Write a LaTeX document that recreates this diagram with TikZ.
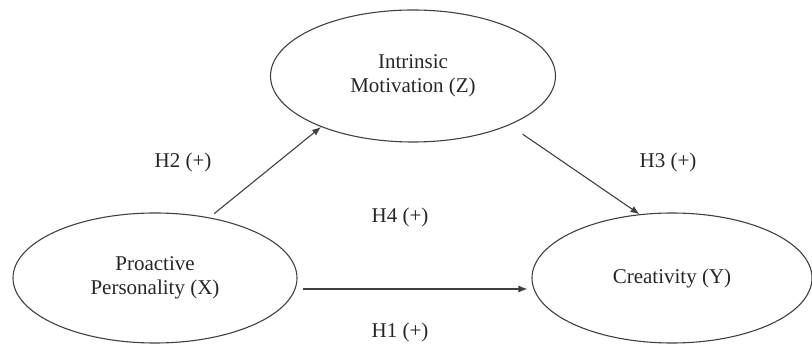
\documentclass[tikz,border=0pt]{standalone}
\usepackage{fontspec}
\setmainfont{Liberation Serif}
\usetikzlibrary{shapes.geometric,arrows.meta}
\begin{document}
\begin{tikzpicture}[x=1pt, y=1pt,
            var/.style={ellipse, draw=black!75, line width=1.1pt, inner sep=0pt, align=center,
              font=\fontsize{21}{24}\selectfont, text=black!85},
            hyp/.style={font=\fontsize{21}{24}\selectfont, text=black!85},
            path/.style={draw=black!75, line width=1.1pt, -{Latex[length=9pt,width=7pt]}}]
            \useasboundingbox (0,0) rectangle (812,345);
            \node[var, minimum width=285pt, minimum height=132pt] (Z) at (413,269) {Intrinsic\\Motivation (Z)};
            \node[var, minimum width=284pt, minimum height=130pt] (X) at (155,67) {Proactive\\Personality (X)};
            \node[var, minimum width=280pt, minimum height=130pt] (Y) at (672,67) {Creativity (Y)};
            \draw[path, shorten <=6pt] (X.48) -- (Z.209);
            \draw[path, shorten <=16pt] (Z.333) -- (Y.117);
            \draw[path, shorten <=5pt, shorten >=4pt] ([yshift=-11pt]X.east) -- ([yshift=-11pt]Y.west);
            \node[hyp] (H2) at (183,183) {H2 (+)};
            \node[hyp] (H3) at (668,183) {H3 (+)};
            \node[hyp] (H4) at (400,128) {H4 (+)};
            \node[hyp] (H1) at (400,13) {H1 (+)};
        \end{tikzpicture}
\end{document}
